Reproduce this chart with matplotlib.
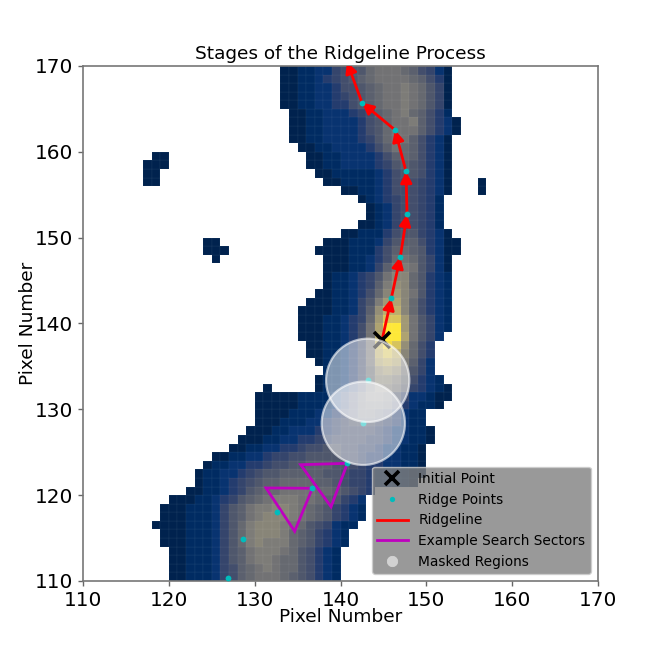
import numpy as np
import matplotlib
matplotlib.use("Agg")
import matplotlib.pyplot as plt
from matplotlib.lines import Line2D
from matplotlib.patches import Circle, Polygon

# Image rows, top (y=169) to bottom (y=110): first col, end col, intensity levels (base 36, 0..k)
ROW_Y_TOP = 169
ROW_LEFT = [133,133,133,133,133,134,134,134,134,135,136,136,137,138,140,142,143,143,142,140,
            138,137,138,138,138,138,137,136,135,135,135,135,136,136,137,138,137,137,130,130,
            130,130,129,128,127,125,124,123,123,122,120,119,119,118,119,119,120,120,120,120]
ROW_RIGHT = [153,153,153,153,153,153,154,154,153,153,153,153,153,153,153,152,152,152,152,153,
             154,154,153,153,153,153,153,153,153,153,153,152,151,151,151,151,152,153,153,152,
             150,150,151,151,150,150,150,150,149,144,143,143,143,142,141,141,140,140,140,140]
ROW_LEVELS = [
 "00112245668999875420", "00112345678999987530", "00112235567899a98640",
 "00112234567899a98640", "00112233567899a98640", "0011222345789a87531",
 "00112222356899a75320", "00112222356899975320", "0011222234689975320",
 "001122223579875320", "00112222357875320", "00112222346765320",
 "0011111235665320", "001111235554320", "0011235554320", "0123455431",
 "012455431", "012455431", "0012455431", "0011135664320",
 "0001112467753200", "00001113578763200", "000112358986420", "000112479a96420",
 "01123469bb86321", "0112347acb86321", "00112358bdb96321", "00011246adeb85321",
 "000011247cffb85321", "000112348dhhd96421", "000112359ekkd96421", "000112359fkke9642",
 "00112359gjhc853", "00112359fhfb853", "0112359efea742", "112358cdc9642",
 "0112358bba85321", "0112358aa9743210", "00000111123579986422100", "0000011112357887532110",
 "00001112234577653211", "00011122345666543211", "0001122233455554322110", "00011223344555544322110",
 "00112233455665544322110", "0011223445566665543322110", "01122334556677766543322110",
 "011223456677777665443221100", "01123456778888776544322110", "0011234678899998876543",
 "000112346789aaa99876432", "00011124679aabba98764321", "00011124679abbba98764321",
 "00001112468abbba98654211", "0001112468abbba8764321", "0001112468abaaa8764321",
 "0011124679aaa9865321", "0011124679aa98865321", "00111245789a98865321", "00111245789998765321",
]
# Small detached blobs of lowest-level pixels
BLOB_X = [131, 118,119,117,118,119,117,118,117,118, 124,125,124,125,126,125, 156,156]
BLOB_Y = [132, 159,159,158,158,158,157,157,156,156, 149,149,148,148,148,147, 156,155]

RIDGE_X = [126.9, 128.68, 132.57, 136.72, 140.8, 142.66, 143.17, 145.92, 146.97, 147.75, 147.63, 146.35, 142.5]
RIDGE_Y = [110.31, 114.93, 118.04, 120.8, 123.71, 128.37, 133.38, 142.94, 147.78, 152.72, 157.73, 162.55, 165.73]
LINE_X = [144.85, 145.92, 146.97, 147.75, 147.63, 146.35, 142.5, 140.75]
LINE_Y = [138.1, 142.94, 147.78, 152.72, 157.73, 162.55, 165.73, 170.5]
INIT_X, INIT_Y = 144.85, 138.1
SECTOR_A_X = [135.36, 140.8, 138.9]
SECTOR_A_Y = [123.55, 123.71, 118.65]
SECTOR_B_X = [131.32, 136.72, 134.66]
SECTOR_B_Y = [120.84, 120.8, 115.79]
MASK_X = [143.17, 142.66]
MASK_Y = [133.38, 128.37]
MASK_R = 4.85

TITLE = "Stages of the Ridgeline Process"
XLABEL = YLABEL = "Pixel Number"
TICKS = [110, 120, 130, 140, 150, 160, 170]
LEGEND_LABELS = ["Initial Point", "Ridge Points", "Ridgeline", "Example Search Sectors", "Masked Regions"]

xmin, xmax = 117, 157
grid = np.full((60, xmax - xmin), np.nan)
for i, (l, rt, s) in enumerate(zip(ROW_LEFT, ROW_RIGHT, ROW_LEVELS)):
    r = ROW_Y_TOP - i - 110
    vals = [int(ch, 36) for ch in s]
    for c in range(l, rt):
        k = c - l
        grid[r, c - xmin] = vals[k] if k < len(vals) else vals[-1]
for x, y in zip(BLOB_X, BLOB_Y):
    grid[y - 110, x - xmin] = 0

fig = plt.figure(figsize=(6.64, 6.64), dpi=100)
ax = fig.add_axes([83 / 664, 1 - 581 / 664, 515 / 664, 515 / 664])
ax.pcolormesh(np.arange(xmin, xmax + 1), np.arange(110, 171), np.ma.masked_invalid(grid),
              cmap="cividis", vmin=0, vmax=20, antialiased=True, edgecolor=(1, 1, 1, 0.09),
              linewidth=0.3, zorder=1)

for sx, sy in ((SECTOR_A_X, SECTOR_A_Y), (SECTOR_B_X, SECTOR_B_Y)):
    ax.add_patch(Polygon(np.column_stack([sx, sy]), closed=True, fill=False, ec="m", lw=2, zorder=2))
for i in range(len(LINE_X) - 1):
    ann = ax.annotate("", xy=(LINE_X[i + 1], LINE_Y[i + 1]), xytext=(LINE_X[i], LINE_Y[i]),
                      arrowprops=dict(arrowstyle="-|>", color="red", lw=2, mutation_scale=17,
                                      shrinkA=0, shrinkB=0), zorder=3, annotation_clip=False)
    ann.arrow_patch.set_clip_on(True)
    ann.arrow_patch.set_clip_box(ax.bbox)
ax.plot(RIDGE_X, RIDGE_Y, ls="none", marker="o", ms=4.2, color="#00bcbc", mew=0, zorder=4)
ax.plot([INIT_X], [INIT_Y], ls="none", marker="x", ms=11, mew=2.6, color="k", zorder=5)
for x, y in zip(MASK_X, MASK_Y):
    ax.add_patch(Circle((x, y), MASK_R, fc=(1, 1, 1, 0.5), ec=(1, 1, 1, 0.6), lw=1.6, zorder=6))

ax.set_xlim(110, 170)
ax.set_ylim(110, 170)
ax.set_xticks(TICKS)
ax.set_yticks(TICKS)
ax.tick_params(labelsize=14.4, color="#666666", width=1, pad=3.5)
for sp in ax.spines.values():
    sp.set_color("#777777")
    sp.set_linewidth(1.2)
ax.set_title(TITLE, fontsize=13.3, pad=5)
ax.set_xlabel(XLABEL, fontsize=13.3, va="center")
ax.set_ylabel(YLABEL, fontsize=13.3, va="center")
ax.xaxis.set_label_coords(0.5, -36 / 515)
ax.yaxis.set_label_coords(-55 / 515, 0.5)

handles = [
    Line2D([], [], ls="none", marker="x", ms=10.5, mew=2.6, color="k"),
    Line2D([], [], ls="none", marker="o", ms=3.8, color="#00bcbc", mew=0),
    Line2D([], [], color="red", lw=2),
    Line2D([], [], color="m", lw=2),
    Line2D([], [], ls="none", marker="o", ms=7.5, mfc="#d2d2d2", mec="#d8d8d8", mew=0.5),
]
leg = ax.legend(handles, LEGEND_LABELS, loc="lower right", fontsize=9.9, facecolor="gray",
                framealpha=0.8, labelspacing=0.48, handlelength=2.2)
leg.set_zorder(10)
fig.savefig("out.png", dpi=100, facecolor="white")
